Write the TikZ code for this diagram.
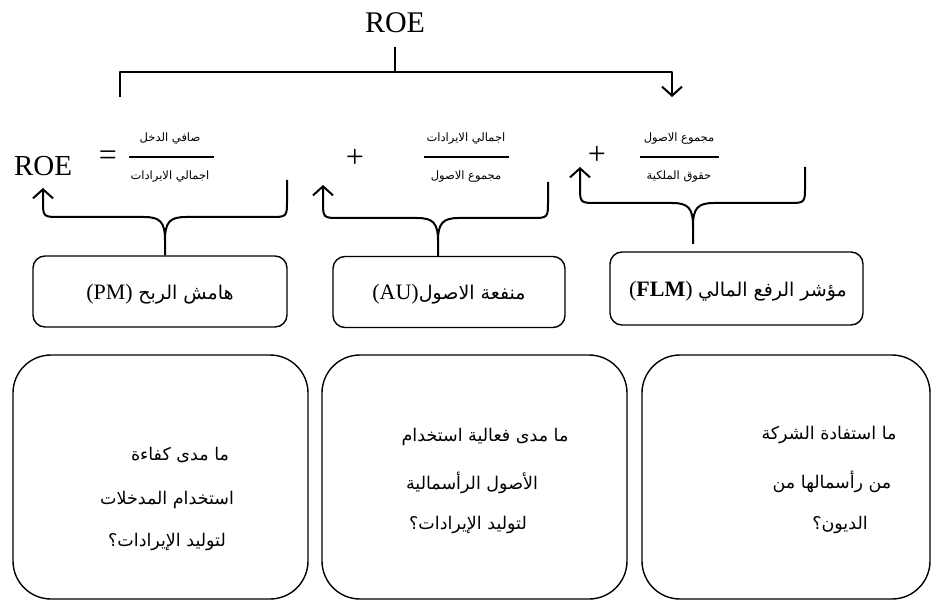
\documentclass[tikz,border=0pt]{standalone}
\usepackage{fontspec}
\setmainfont{Liberation Serif}
\newfontfamily\arabicfont[Script=Arabic]{DejaVu Sans}
\TeXXeTstate=1
\usetikzlibrary{arrows.meta}
\newcommand{\artext}[1]{{\arabicfont\beginR #1\endR}}
\newcommand{\labelarsize}{\fontsize{19}{24}\selectfont}

\begin{document}
\begin{tikzpicture}[x=1pt,y=-1pt,
  conn/.style={line width=2pt, line join=round},
  uparr/.style={conn, -{Straight Barb[length=9pt,width=20pt,line width=2pt]}},
  smallbox/.style={draw, line width=1.4pt, rounded corners=12pt, inner sep=0pt},
  bigbox/.style={draw, line width=1.4pt, rounded corners=38pt, inner sep=0pt},
  latinbig/.style={font=\fontsize{30}{34}\selectfont, inner sep=0pt},
  latinmid/.style={font=\fontsize{29}{32}\selectfont, inner sep=0pt},
  opsign/.style={font=\fontsize{32}{36}\selectfont, inner sep=0pt},
  fracnum/.style={font=\fontsize{11.5}{14}\selectfont, inner sep=0pt},
  boxlabel/.style={font=\fontsize{22}{26}\selectfont, inner sep=0pt},
  question/.style={font=\fontsize{17.5}{22}\selectfont, inner sep=0pt},
  fracbar/.style={line width=1.2pt}]
\useasboundingbox (0,0) rectangle (933,601);

% ---- top: ROE splits into the three ratios
\node[latinbig] (roeTop) at (395,23) {ROE};
\coordinate (tickTop) at (395,47);
\coordinate (tickBot) at (395,72);
\coordinate (splitL) at (120,72);
\coordinate (splitLend) at (120,97);
\coordinate (splitR) at (672,72);
\coordinate (splitRend) at (672,97);
\draw[conn] (tickTop) -- (tickBot);
\draw[conn, -{Straight Barb[length=9pt,width=20pt,line width=2pt]}]
  (splitLend) -- (splitL) -- (splitR) -- (splitRend);

% ---- formula row
\node[latinmid] (roeEq) at (43,166) {ROE};
\node[opsign] (eq) at (108,158) {=};
\node[fracnum] (n1) at (170,139) {\artext{صافي الدخل}};
\node[fracnum] (d1) at (170,177) {\artext{اجمالي الايرادات}};
\coordinate (b1l) at (129,157); \coordinate (b1r) at (214,157);
\draw[fracbar] (b1l) -- (b1r);

\node[opsign] (plus1) at (355,158) {+};
\node[fracnum] (n2) at (466,139) {\artext{اجمالي الايرادات}};
\node[fracnum] (d2) at (466,177) {\artext{مجموع الاصول}};
\coordinate (b2l) at (424,157); \coordinate (b2r) at (509,157);
\draw[fracbar] (b2l) -- (b2r);

\node[opsign] (plus2) at (597,155) {+};
\node[fracnum] (n3) at (679,139) {\artext{مجموع الاصول}};
\node[fracnum] (d3) at (679,177) {\artext{حقوق الملكية}};
\coordinate (b3l) at (640,157); \coordinate (b3r) at (719,157);
\draw[fracbar] (b3l) -- (b3r);

% ---- ratio boxes
\node[smallbox, minimum width=254pt, minimum height=71pt] (pm) at (160,291.5) {};
\node[boxlabel] (pmt) at (160,294) {(PM)\ {\labelarsize\artext{هامش الربح}}};
\node[smallbox, minimum width=232pt, minimum height=71pt] (au) at (449,292) {};
\node[boxlabel] (aut) at (449,294) {(AU){\labelarsize\artext{منفعة الاصول}}};
\node[smallbox, minimum width=253pt, minimum height=73pt] (flm) at (736.5,288.5) {};
\node[boxlabel] (flmt) at (738,291) {(\textbf{FLM})\ {\labelarsize\artext{مؤشر الرفع المالي}}};

% ---- braces from each box up to its fraction
\coordinate (pmCusp) at (165,240);
\coordinate (pmTip) at (43,188);  \coordinate (pmEnd) at (287,180);
\draw[conn] (pm.north -| pmCusp) -- (pmCusp) .. controls (165,222) and (170,217) .. (186,217)
  -- (270,217) .. controls (287,217) .. (287,200) -- (pmEnd);
\draw[uparr] (pmCusp) .. controls (165,222) and (160,217) .. (144,217)
  -- (60,217) .. controls (43,217) .. (43,200) -- (pmTip);

\coordinate (auCusp) at (438,241);
\coordinate (auTip) at (323,185);  \coordinate (auEnd) at (548,182);
\draw[conn] (au.north -| auCusp) -- (auCusp) .. controls (438,223) and (443,218) .. (459,218)
  -- (531,218) .. controls (548,218) .. (548,201) -- (auEnd);
\draw[uparr] (auCusp) .. controls (438,223) and (433,218) .. (417,218)
  -- (340,218) .. controls (323,218) .. (323,201) -- (auTip);

\coordinate (flmCusp) at (693,226);
\coordinate (flmTip) at (580,167);  \coordinate (flmEnd) at (805,167);
\coordinate (flmStem) at (693,244);
\draw[conn] (flmStem) -- (flmCusp) .. controls (693,208) and (698,203) .. (714,203)
  -- (788,203) .. controls (805,203) .. (805,186) -- (flmEnd);
\draw[uparr] (flmCusp) .. controls (693,208) and (688,203) .. (672,203)
  -- (597,203) .. controls (580,203) .. (580,186) -- (flmTip);

% ---- question boxes
\node[bigbox, minimum width=295pt, minimum height=244pt] (q1) at (160.5,477) {};
\node[question] (q1a) at (180,455) {\artext{ما مدى كفاءة}};
\node[question] (q1b) at (167,500) {\artext{استخدام المدخلات}};
\node[question] (q1c) at (167,542) {\artext{لتوليد الإيرادات؟}};

\node[bigbox, minimum width=305pt, minimum height=244pt] (q2) at (474.5,477) {};
\node[question] (q2a) at (485,437) {\artext{ما مدى فعالية استخدام}};
\node[question] (q2b) at (472,483) {\artext{الأصول الرأسمالية}};
\node[question] (q2c) at (468,525) {\artext{لتوليد الإيرادات؟}};

\node[bigbox, minimum width=288pt, minimum height=244pt] (q3) at (786,477) {};
\node[question] (q3a) at (829,435) {\artext{ما استفادة الشركة}};
\node[question] (q3b) at (832,482) {\artext{من رأسمالها من}};
\node[question] (q3c) at (840,525) {\artext{الديون؟}};
\end{tikzpicture}
\end{document}
